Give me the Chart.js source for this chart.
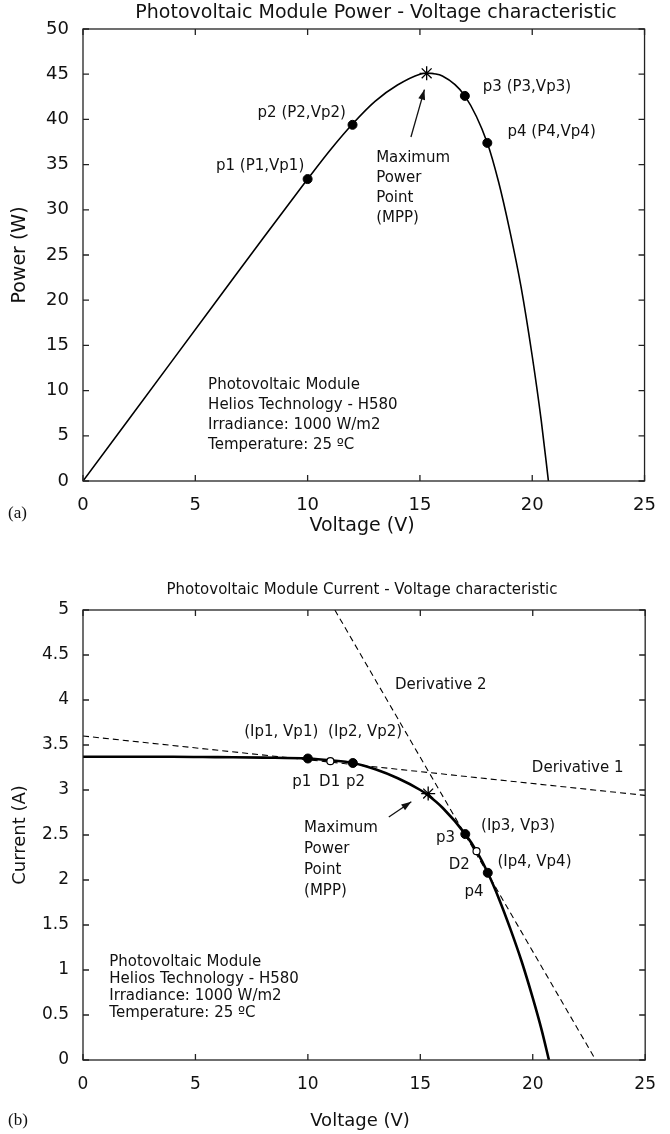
<!DOCTYPE html>
<html>
<head>
<meta charset="utf-8">
<script src="https://cdn.jsdelivr.net/npm/chart.js@4.4.0/dist/chart.umd.min.js"></script>
<style>
  html, body { margin: 0; padding: 0; background: #fff; }
  .panel { position: absolute; left: 0; width: 670px; }
</style>
</head>
<body>
<div class="panel" style="top:0;height:540px"><canvas id="chart-a" width="670" height="540"></canvas></div>
<div class="panel" style="top:540px;height:594px"><canvas id="chart-b" width="670" height="594"></canvas></div>
<script>
// ── (a) Curva potencia - tensión ─────────────────────────────────────
const V_P  = [0, 2, 4, 6, 8, 10, 11, 12, 13, 14, 15, 15.3, 16, 17, 18, 18.5, 19, 19.5, 20, 20.4, 20.72];
const P_W  = [0, 6.7, 13.4, 20.1, 26.8, 33.4, 36.6, 39.5, 42.0, 43.8, 45.0, 45.1, 44.8, 42.6, 37.4, 33.1, 27.7, 21.5, 13.8, 6.7, 0];
const PTS_A_V = [10, 12, 17, 18];
const PTS_A_P = [33.4, 39.4, 42.6, 37.4];
const MPP_A_V = [15.3];
const MPP_A_P = [45.1];

// ── (b) Curva corriente - tensión ────────────────────────────────────
const V_I  = [0, 2, 4, 6, 8, 10, 11, 12, 13, 14, 15, 15.3, 16, 17, 17.5, 18, 18.5, 19, 19.5, 20, 20.4, 20.72];
const I_A  = [3.37, 3.37, 3.37, 3.365, 3.36, 3.35, 3.33, 3.30, 3.23, 3.13, 3.0, 2.95, 2.8, 2.51, 2.32, 2.08, 1.79, 1.46, 1.10, 0.69, 0.33, 0];
const PTS_B_V = [10, 12, 17, 18];
const PTS_B_I = [3.35, 3.30, 2.51, 2.08];
const D_V = [11, 17.5];
const D_I = [3.32, 2.32];
const MPP_B_V = [15.35];
const MPP_B_I = [2.96];
const DER1_V = [0, 25];
const DER1_I = [3.6, 2.94];
const DER2_V = [11.2, 22.8];
const DER2_I = [5, 0];

const FONT = "'DejaVu Sans', 'Liberation Sans', Arial, sans-serif";
const INK = "#111";

function xy(xs, ys) { return xs.map((x, i) => ({ x, y: ys[i] })); }

function flecha(ctx, x1, y1, x2, y2) {
  const ang = Math.atan2(y2 - y1, x2 - x1);
  ctx.beginPath(); ctx.moveTo(x1, y1); ctx.lineTo(x2, y2); ctx.stroke();
  ctx.beginPath();
  ctx.moveTo(x2, y2);
  ctx.lineTo(x2 - 10 * Math.cos(ang) + 3.5 * Math.sin(ang), y2 - 10 * Math.sin(ang) - 3.5 * Math.cos(ang));
  ctx.lineTo(x2 - 10 * Math.cos(ang) - 3.5 * Math.sin(ang), y2 - 10 * Math.sin(ang) + 3.5 * Math.cos(ang));
  ctx.closePath(); ctx.fill();
}

// Marco, ticks interiores, títulos y anotaciones
const decor = {
  id: "decor",
  afterDraw(chart, args, o) {
    const { ctx, chartArea: a, scales: { x, y } } = chart;
    ctx.save();
    ctx.strokeStyle = "#222"; ctx.lineWidth = 1.3;
    ctx.strokeRect(a.left, a.top, a.right - a.left, a.bottom - a.top);
    ctx.beginPath();
    x.ticks.forEach(t => {
      const px = x.getPixelForValue(t.value);
      ctx.moveTo(px, a.bottom); ctx.lineTo(px, a.bottom - 6);
      ctx.moveTo(px, a.top);    ctx.lineTo(px, a.top + 6);
    });
    y.ticks.forEach(t => {
      const py = y.getPixelForValue(t.value);
      ctx.moveTo(a.left, py);  ctx.lineTo(a.left + 6, py);
      ctx.moveTo(a.right, py); ctx.lineTo(a.right - 6, py);
    });
    ctx.stroke();

    ctx.fillStyle = INK; ctx.strokeStyle = INK;
    ctx.textBaseline = "middle";
    // título
    ctx.textAlign = "center";
    ctx.font = o.titleSize + "px " + FONT;
    ctx.fillText(o.title, o.titleX, o.titleY);
    // títulos de ejes
    ctx.font = o.axisSize + "px " + FONT;
    ctx.fillText(o.xTitle, o.xTitleX, o.xTitleY);
    ctx.save();
    ctx.translate(o.yTitleX, (a.top + a.bottom) / 2);
    ctx.rotate(-Math.PI / 2);
    ctx.fillText(o.yTitle, 0, 0);
    ctx.restore();
    // (a) / (b)
    ctx.textAlign = "left";
    ctx.font = "17px 'Liberation Serif', 'Times New Roman', serif";
    ctx.fillText(o.panel, 8, o.panelY);
    // anotaciones en coordenadas de datos
    ctx.font = o.noteSize + "px " + FONT;
    o.notes.forEach(n => {
      ctx.textAlign = n.align || "left";
      ctx.fillText(n.t, x.getPixelForValue(n.x), y.getPixelForValue(n.y));
    });
    ctx.lineWidth = 1.3;
    o.arrows.forEach(f => flecha(ctx,
      x.getPixelForValue(f[0]), y.getPixelForValue(f[1]),
      x.getPixelForValue(f[2]), y.getPixelForValue(f[3])));
    ctx.restore();
  }
};

function ejes(xMax, yMax, yStep, tickSize, yWidth, xHeight, pad) {
  return {
    x: { type: "linear", min: 0, max: xMax,
         ticks: { stepSize: 5, color: INK, padding: pad, font: { family: FONT, size: tickSize } },
         grid: { display: false, drawTicks: false }, border: { display: false },
         afterFit: s => { s.height = xHeight; } },
    y: { type: "linear", min: 0, max: yMax,
         ticks: { stepSize: yStep, color: INK, padding: 14, font: { family: FONT, size: tickSize },
                  callback: v => String(v) },
         grid: { display: false, drawTicks: false }, border: { display: false },
         afterFit: s => { s.width = yWidth; } },
  };
}

// ── Gráfico (a) ──────────────────────────────────────────────────────
new Chart(document.getElementById("chart-a"), {
  type: "scatter",
  data: {
    datasets: [
      { data: xy(PTS_A_V, PTS_A_P), pointRadius: 4.5, pointBackgroundColor: "#000", pointBorderColor: "#000", order: 0 },
      { data: xy(MPP_A_V, MPP_A_P), pointStyle: "star", pointRadius: 7, pointBorderColor: "#000", pointBorderWidth: 1.3, order: 0 },
      { data: xy(V_P, P_W), showLine: true, borderColor: "#000", borderWidth: 1.6, pointRadius: 0,
        cubicInterpolationMode: "monotone", order: 1 },
    ],
  },
  options: {
    responsive: false, animation: false, events: [],
    layout: { padding: { left: 0, right: 12, top: 29, bottom: 0 } },
    plugins: {
      legend: { display: false }, tooltip: { enabled: false },
      decor: {
        title: "Photovoltaic Module Power - Voltage characteristic", titleSize: 19, titleX: 376, titleY: 13,
        xTitle: "Voltage (V)", xTitleX: 362, xTitleY: 526, axisSize: 19,
        yTitle: "Power (W)", yTitleX: 20,
        panel: "(a)", panelY: 514, noteSize: 15,
        notes: [
          { t: "p1 (P1,Vp1)", x: 9.85, y: 34.8, align: "right" },
          { t: "p2 (P2,Vp2)", x: 11.7, y: 40.7, align: "right" },
          { t: "p3 (P3,Vp3)", x: 17.8, y: 43.6 },
          { t: "p4 (P4,Vp4)", x: 18.9, y: 38.6 },
          { t: "Maximum", x: 13.05, y: 35.7 },
          { t: "Power", x: 13.05, y: 33.5 },
          { t: "Point", x: 13.05, y: 31.3 },
          { t: "(MPP)", x: 13.05, y: 29.1 },
          { t: "Photovoltaic Module", x: 5.57, y: 10.6 },
          { t: "Helios Technology - H580", x: 5.57, y: 8.4 },
          { t: "Irradiance: 1000 W/m2", x: 5.57, y: 6.2 },
          { t: "Temperature: 25 ºC", x: 5.57, y: 4.0 },
        ],
        arrows: [[14.6, 38.05, 15.2, 43.3]],
      },
    },
    scales: ejes(25, 50, 5, 18, 83, 59, 14),
  },
  plugins: [decor],
});

// ── Gráfico (b) ──────────────────────────────────────────────────────
new Chart(document.getElementById("chart-b"), {
  type: "scatter",
  data: {
    datasets: [
      { data: xy(PTS_B_V, PTS_B_I), pointRadius: 4.5, pointBackgroundColor: "#000", pointBorderColor: "#000", order: 0 },
      { data: xy(D_V, D_I), pointRadius: 3.5, pointBackgroundColor: "#fff", pointBorderColor: "#000", pointBorderWidth: 1.2, order: 0 },
      { data: xy(MPP_B_V, MPP_B_I), pointStyle: "star", pointRadius: 7, pointBorderColor: "#000", pointBorderWidth: 1.3, order: 0 },
      { data: xy(V_I, I_A), showLine: true, borderColor: "#000", borderWidth: 2.6, pointRadius: 0,
        cubicInterpolationMode: "monotone", order: 1 },
      { data: xy(DER1_V, DER1_I), showLine: true, borderColor: "#000", borderWidth: 1.1, borderDash: [6, 4], pointRadius: 0, order: 2 },
      { data: xy(DER2_V, DER2_I), showLine: true, borderColor: "#000", borderWidth: 1.1, borderDash: [6, 4], pointRadius: 0, order: 2 },
    ],
  },
  options: {
    responsive: false, animation: false, events: [],
    layout: { padding: { left: 0, right: 13, top: 70, bottom: 0 } },
    plugins: {
      legend: { display: false }, tooltip: { enabled: false },
      decor: {
        title: "Photovoltaic Module Current - Voltage characteristic", titleSize: 15, titleX: 362, titleY: 50,
        xTitle: "Voltage (V)", xTitleX: 360, xTitleY: 581, axisSize: 18,
        yTitle: "Current (A)", yTitleX: 20,
        panel: "(b)", panelY: 581, noteSize: 15,
        notes: [
          { t: "(Ip1, Vp1)", x: 7.17, y: 3.64 },
          { t: "(Ip2, Vp2)", x: 10.9, y: 3.64 },
          { t: "p1", x: 9.3, y: 3.09 },
          { t: "D1", x: 10.5, y: 3.09 },
          { t: "p2", x: 11.7, y: 3.09 },
          { t: "Derivative 2", x: 13.87, y: 4.17 },
          { t: "Derivative 1", x: 19.96, y: 3.24 },
          { t: "(Ip3, Vp3)", x: 17.7, y: 2.6 },
          { t: "p3", x: 16.55, y: 2.47, align: "right" },
          { t: "D2", x: 16.26, y: 2.17 },
          { t: "(Ip4, Vp4)", x: 18.43, y: 2.2 },
          { t: "p4", x: 16.96, y: 1.86 },
          { t: "Maximum", x: 9.83, y: 2.58 },
          { t: "Power", x: 9.83, y: 2.34 },
          { t: "Point", x: 9.83, y: 2.11 },
          { t: "(MPP)", x: 9.83, y: 1.88 },
          { t: "Photovoltaic Module", x: 1.17, y: 1.09 },
          { t: "Helios Technology - H580", x: 1.17, y: 0.9 },
          { t: "Irradiance: 1000 W/m2", x: 1.17, y: 0.71 },
          { t: "Temperature: 25 ºC", x: 1.17, y: 0.52 },
        ],
        arrows: [[13.6, 2.7, 14.6, 2.87]],
      },
    },
    scales: ejes(25, 5, 0.5, 17, 83, 74, 14),
  },
  plugins: [decor],
});
</script>
</body>
</html>
